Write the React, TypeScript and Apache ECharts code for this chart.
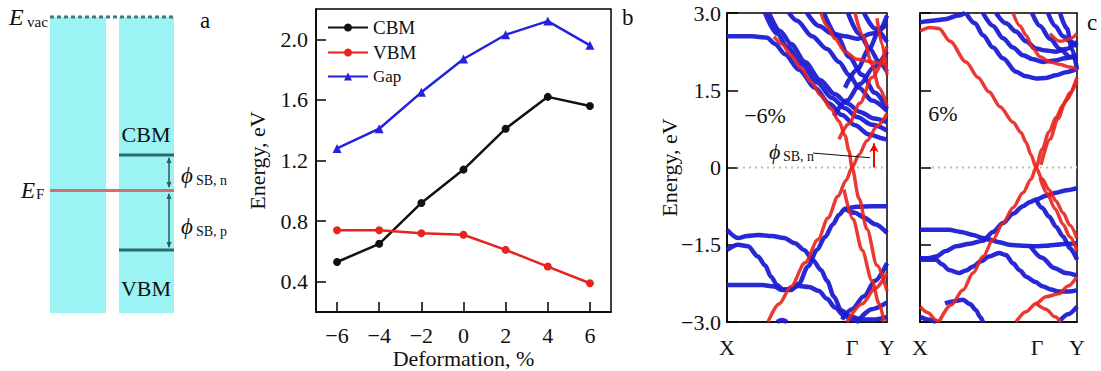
import React, { useEffect, useRef } from "react";
import * as echarts from "echarts";

// ---------- panel b data ----------
const deformation = [-6, -4, -2, 0, 2, 4, 6];
const cbmValues = [0.53, 0.65, 0.92, 1.14, 1.41, 1.62, 1.56];
const vbmValues = [0.74, 0.74, 0.72, 0.71, 0.61, 0.5, 0.39];
const gapValues = [1.28, 1.41, 1.65, 1.87, 2.03, 2.12, 1.96];
const energyTicksB = [0.4, 0.8, 1.2, 1.6, 2.0];
const deformationTicks = [-6, -4, -2, 0, 2, 4, 6];

// ---------- panel c data (k along path, energy eV) ----------
const kLabels = ["X", "\u0393", "Y"];
const kTicksMinus6 = [0, 125, 160];
const kTicksPlus6 = [0, 117, 157];

const minus6Blue: number[][][] = [
  [[0, 2.55], [25, 2.55], [40, 2.52], [48, 2.4], [58, 2.2], [72, 1.9], [88, 1.55], [102, 1.25], [115, 1.02], [128, 0.82], [142, 0.64], [159, 0.55], [160, 0.55]],
  [[38, 3.0], [50, 2.6], [60, 2.35], [75, 2.0], [90, 1.65], [105, 1.35], [118, 1.15], [130, 0.98], [145, 0.83], [160, 0.72]],
  [[42, 3.0], [53, 2.65], [64, 2.4], [78, 2.05], [93, 1.7], [108, 1.42], [120, 1.25], [133, 1.08], [147, 0.95], [160, 0.88]],
  [[62, 3.0], [70, 2.85], [85, 2.55], [100, 2.3], [112, 2.05], [122, 1.8], [132, 1.55], [145, 1.3], [160, 1.1]],
  [[80, 3.0], [92, 2.75], [105, 2.6], [118, 2.55], [130, 2.5], [145, 2.6], [160, 2.78]],
  [[97, 3.0], [110, 2.55], [122, 2.15], [135, 1.8], [148, 1.45], [160, 1.14]],
  [[121, 3.0], [132, 2.6], [143, 2.3], [152, 2.05], [160, 1.86]],
  [[137, 3.0], [148, 2.7], [160, 2.44]],
  [[107, 1.0], [120, 1.3], [133, 1.62], [147, 1.95], [160, 2.25]],
  [[118, 1.55], [130, 1.9], [142, 2.3], [152, 2.65], [160, 2.95]],
  [[0, -1.21], [11, -1.37], [20, -1.33], [31, -1.31], [45, -1.33], [57, -1.37], [68, -1.47], [77, -1.6], [86, -1.8], [94, -1.99], [100, -2.2], [107, -2.51], [114, -2.77], [124, -2.9], [135, -2.95], [148, -2.95], [160, -2.9]],
  [[0, -1.6], [11, -1.5], [21, -1.53], [31, -1.73], [38, -1.9], [44, -2.12], [50, -2.28], [56, -2.37], [64, -2.38], [72, -2.25], [81, -1.92], [90, -1.6], [98, -1.35], [106, -1.1], [112, -0.92], [118, -0.8], [130, -0.76], [145, -0.75], [160, -0.75]],
  [[0, -2.28], [20, -2.28], [35, -2.28], [47, -2.31], [55, -2.38], [62, -2.36], [72, -2.3], [82, -2.32], [92, -2.4], [100, -2.55], [108, -2.72], [117, -2.88], [125, -2.95], [132, -3.0]],
  [[118, -0.8], [128, -0.88], [137, -0.97], [148, -1.1], [160, -1.27]],
  [[115, -2.95], [125, -2.75], [137, -2.5], [148, -2.2], [160, -1.86]],
  [[130, -3.0], [145, -2.75], [160, -2.62]],
  [[50, -3.0], [55, -2.96], [60, -3.0]],
];

const minus6Red: number[][][] = [
  [[47, 2.54], [55, 2.4], [64, 2.18], [74, 1.93], [84, 1.66], [94, 1.4], [104, 1.14], [112, 0.9], [118, 0.62], [122, 0.32], [125, 0.0], [132, -0.6], [140, -1.2], [150, -1.9], [160, -2.4]],
  [[41, -3.0], [52, -2.65], [64, -2.31], [78, -1.85], [91, -1.4], [101, -0.98], [111, -0.56], [119, -0.25], [125, 0.0], [132, 0.25], [140, 0.52], [150, 0.8], [160, 1.05]],
  [[117, -0.43], [126, -1.0], [135, -1.6], [145, -2.2], [152, -2.64], [157, -3.0]],
  [[120, -3.0], [135, -2.65], [148, -2.35], [160, -2.05]],
  [[94, 3.0], [100, 2.75], [108, 2.5], [118, 2.25], [130, 2.1], [145, 2.05], [160, 2.0]],
  [[112, 0.55], [122, 0.85], [133, 1.25], [145, 1.75], [160, 2.35]],
  [[150, 2.9], [155, 2.4], [160, 1.8]],
  [[128, 3.0], [136, 2.55], [145, 2.0], [152, 1.55], [160, 1.2]],
];

const plus6Blue: number[][][] = [
  [[0, 2.82], [12, 2.85], [25, 2.88], [38, 2.95], [45, 3.0]],
  [[46, 3.0], [55, 2.8], [63, 2.57], [73, 2.33], [83, 2.12], [96, 1.86], [106, 1.77], [116, 1.73], [126, 1.74], [136, 1.79], [146, 1.85], [157, 1.92]],
  [[63, 3.0], [73, 2.75], [83, 2.51], [93, 2.33], [103, 2.18], [113, 2.1], [123, 2.05], [135, 2.08], [145, 2.12], [157, 2.18]],
  [[76, 3.0], [86, 2.8], [96, 2.64], [106, 2.45], [116, 2.31], [126, 2.27], [136, 2.25], [146, 2.3], [157, 2.44]],
  [[112, 3.0], [120, 2.75], [130, 2.5], [140, 2.3], [150, 2.15], [157, 2.1]],
  [[128, 3.0], [135, 2.75], [143, 2.55], [150, 2.45], [157, 2.35]],
  [[140, 3.0], [147, 2.7], [152, 2.3], [157, 1.9]],
  [[0, -1.21], [15, -1.21], [29, -1.21], [41, -1.25], [53, -1.31], [63, -1.37], [69, -1.4], [79, -1.45], [89, -1.5], [102, -1.52], [116, -1.53], [126, -1.52], [136, -1.5], [147, -1.48], [157, -1.47]],
  [[0, -1.76], [8, -1.76], [16, -1.73], [26, -1.62], [36, -1.53], [50, -1.48], [63, -1.42], [73, -1.25], [83, -1.08], [93, -0.9], [103, -0.75], [110, -0.67], [116, -0.62], [126, -0.55], [136, -0.49], [147, -0.44], [157, -0.4]],
  [[0, -1.79], [16, -1.79], [22, -1.88], [29, -1.99], [39, -2.05], [46, -2.0], [53, -1.92], [61, -1.82], [69, -1.73], [79, -1.66], [86, -1.7], [93, -1.86], [100, -2.0], [106, -2.12], [115, -2.22], [123, -2.31], [131, -2.37], [139, -2.41], [148, -2.41], [157, -2.38]],
  [[116, -0.62], [122, -0.78], [129, -0.95], [136, -1.15], [143, -1.34], [150, -1.57], [157, -1.79]],
  [[110, -1.52], [122, -1.75], [134, -1.95], [146, -2.05], [157, -2.1]],
  [[25, -2.64], [33, -2.6], [43, -2.57], [50, -2.65], [56, -2.77], [60, -2.9], [63, -3.0]],
  [[0, -2.9], [8, -2.95], [16, -3.0]],
  [[139, -3.0], [148, -2.85], [157, -2.7]],
];

const plus6Red: number[][][] = [
  [[0, 2.65], [10, 2.72], [19, 2.7], [30, 2.45], [46, 2.05], [58, 1.75], [69, 1.47], [80, 1.18], [93, 0.88], [101, 0.68], [106, 0.49], [111, 0.25], [116, 0.0], [122, -0.22], [129, -0.43], [136, -0.65], [143, -0.88], [150, -1.12], [157, -1.38]],
  [[120, -0.2], [127, -0.5], [135, -0.8], [143, -1.1], [150, -1.35], [157, -1.62]],
  [[19, -3.0], [31, -2.67], [43, -2.38], [53, -2.05], [63, -1.73], [73, -1.4], [83, -1.08], [93, -0.78], [103, -0.49], [111, -0.23], [116, 0.0], [122, 0.35], [129, 0.69], [136, 0.97], [143, 1.21], [150, 1.45], [157, 1.68]],
  [[121, 0.05], [130, 0.55], [138, 0.95], [146, 1.3], [157, 1.75]],
  [[93, 3.0], [100, 2.75], [106, 2.57], [113, 2.31], [120, 2.15], [130, 2.05], [140, 2.0], [150, 1.95], [157, 1.9]],
  [[130, 2.6], [140, 2.45], [150, 2.5], [157, 2.6]],
  [[96, -3.0], [106, -2.8], [116, -2.64], [126, -2.51], [139, -2.45], [148, -2.3], [157, -2.12]],
  [[116, -2.64], [126, -2.75], [135, -2.9], [141, -3.0]],
  [[0, -2.7], [8, -2.82], [16, -2.96], [19, -3.0]],
];

const zeroLineMinus6 = [[10, 0], [160, 0]];
const zeroLinePlus6 = [[12, 0], [157, 0]];
const phiArrow = [[147, 0], [147, 0.47]];
const phiLeader = [[86, 0.28], [143, 0.19]];

const SERIF = "Liberation Serif";
const BLUE = "#1c1cd2";
const RED = "#e8231d";
const PHI = "\u03d5";
const minus = (s: string) => s.replace("-", "\u2212");

function txt(x: number, y: number, text: string, size: number, opts: any = {}) {
  return {
    type: "text",
    x,
    y,
    silent: true,
    style: {
      text,
      fill: opts.fill || "#111",
      fontFamily: SERIF,
      fontSize: size,
      fontStyle: opts.italic ? "italic" : "normal",
      align: opts.align || "left",
      verticalAlign: opts.va || "middle",
    },
  };
}

function panelAGraphics() {
  const cyan = "#9cf3f3";
  const teal = "#2d6a6c";
  const g: any[] = [];
  g.push({ type: "rect", shape: { x: 50, y: 17, width: 56, height: 296 }, style: { fill: cyan }, silent: true });
  g.push({ type: "rect", shape: { x: 119, y: 17, width: 55, height: 296 }, style: { fill: cyan }, silent: true });
  g.push({ type: "line", shape: { x1: 50, y1: 17, x2: 174, y2: 17 }, style: { stroke: "#3e7c7e", lineWidth: 3, lineDash: [4, 3] }, silent: true });
  g.push({ type: "line", shape: { x1: 50, y1: 190.5, x2: 174, y2: 190.5 }, style: { stroke: "#cf6f6f", lineWidth: 3 }, silent: true });
  g.push({ type: "line", shape: { x1: 119, y1: 155, x2: 174, y2: 155 }, style: { stroke: teal, lineWidth: 3 }, silent: true });
  g.push({ type: "line", shape: { x1: 119, y1: 250, x2: 174, y2: 250 }, style: { stroke: teal, lineWidth: 3 }, silent: true });
  const ac = "#2a5d60";
  g.push({ type: "line", shape: { x1: 169, y1: 158, x2: 169, y2: 187 }, style: { stroke: ac, lineWidth: 1.5 }, silent: true });
  g.push({ type: "polygon", shape: { points: [[169, 157], [166.5, 163], [171.5, 163]] }, style: { fill: ac }, silent: true });
  g.push({ type: "polygon", shape: { points: [[169, 188], [166.5, 182], [171.5, 182]] }, style: { fill: ac }, silent: true });
  g.push({ type: "line", shape: { x1: 169, y1: 194, x2: 169, y2: 247 }, style: { stroke: ac, lineWidth: 1.5 }, silent: true });
  g.push({ type: "polygon", shape: { points: [[169, 193], [166.5, 199], [171.5, 199]] }, style: { fill: ac }, silent: true });
  g.push({ type: "polygon", shape: { points: [[169, 248], [166.5, 242], [171.5, 242]] }, style: { fill: ac }, silent: true });
  g.push(txt(9, 17, "E", 24, { italic: true }));
  g.push(txt(27, 22, "vac", 15));
  g.push(txt(21, 190, "E", 23, { italic: true }));
  g.push(txt(36, 194, "F", 15));
  g.push(txt(146, 134, "CBM", 22, { align: "center" }));
  g.push(txt(146, 288, "VBM", 22, { align: "center" }));
  g.push(txt(181, 175, PHI, 23, { italic: true }));
  g.push(txt(196, 180, "SB, n", 14));
  g.push(txt(181, 226, PHI, 23, { italic: true }));
  g.push(txt(196, 231, "SB, p", 14));
  g.push(txt(200, 20, "a", 23));
  g.push(txt(622, 17, "b", 23));
  g.push(txt(1087, 22, "c", 23));
  g.push(txt(765, 115, "\u22126%", 22, { align: "center" }));
  g.push(txt(943, 113, "6%", 22, { align: "center" }));
  g.push(txt(769, 151, PHI, 22, { italic: true }));
  g.push(txt(783, 156, "SB, n", 14));
  return g;
}

function bandAxisX(gridIndex: number, max: number, ticks: number[]) {
  return {
    type: "value",
    gridIndex,
    min: 0,
    max,
    axisLine: { show: true, onZero: false, lineStyle: { color: "#000", width: 1.5 } },
    axisTick: { show: false },
    splitLine: { show: false },
    axisLabel: {
      show: true,
      customValues: ticks,
      margin: 14,
      color: "#111",
      fontFamily: SERIF,
      fontSize: 22,
      formatter: (v: number) => kLabels[ticks.indexOf(v)] ?? "",
    },
  };
}

function bandAxisY(gridIndex: number, showLabels: boolean) {
  return {
    type: "value",
    gridIndex,
    min: -3,
    max: 3,
    interval: 1.5,
    name: showLabels ? "Energy, eV" : "",
    nameLocation: "middle",
    nameRotate: 90,
    nameGap: 47,
    nameMoveOverlap: false,
    nameTextStyle: { fontFamily: SERIF, fontSize: 22, color: "#111" },
    axisLine: { show: true, onZero: false, lineStyle: { color: "#000", width: 1.5 } },
    axisTick: { show: true, inside: true, length: 11, lineStyle: { color: "#000", width: 1.5 } },
    splitLine: { show: false },
    axisLabel: {
      show: showLabels,
      margin: 6,
      color: "#111",
      fontFamily: SERIF,
      fontSize: 22,
      formatter: (v: number) => (v === 0 ? "0" : minus(v.toFixed(1))),
    },
  };
}

function bandSeries(bands: number[][][], axis: number, color: string, width: number, opacity: number) {
  return bands.map((b) => ({
    type: "line",
    xAxisIndex: axis,
    yAxisIndex: axis,
    data: b,
    symbol: "none",
    showSymbol: false,
    smooth: 0.3,
    smoothMonotone: "x",
    silent: true,
    lineStyle: { color, width, opacity },
    z: color === RED ? 3 : 2,
  }));
}

export default function App() {
  const ref = useRef<HTMLDivElement>(null);
  useEffect(() => {
    if (!ref.current) return;
    const chart = echarts.init(ref.current, undefined, { renderer: "svg" });
    const lineCommon = (name: string, data: number[], color: string, symbol: string) => ({
      name,
      type: "line",
      xAxisIndex: 0,
      yAxisIndex: 0,
      data: deformation.map((d, i) => [d, data[i]]),
      symbol,
      symbolSize: symbol === "triangle" ? 9 : 8,
      lineStyle: { color, width: 2.5 },
      itemStyle: { color },
      z: 5,
    });
    const option: any = {
      animation: false,
      backgroundColor: "#fff",
      textStyle: { fontFamily: SERIF },
      grid: [
        { left: 316, top: 9, width: 295, height: 303, show: true, borderColor: "#000", borderWidth: 1.5, outerBoundsMode: "none", containLabel: false },
        { left: 727, top: 13, width: 160, height: 309, show: true, borderColor: "#000", borderWidth: 1.5, outerBoundsMode: "none", containLabel: false },
        { left: 920, top: 13, width: 157, height: 309, show: true, borderColor: "#000", borderWidth: 1.5, outerBoundsMode: "none", containLabel: false },
      ],
      legend: {
        orient: "vertical",
        left: 322,
        top: 13,
        itemWidth: 40,
        itemHeight: 10,
        itemGap: 6,
        textStyle: { fontFamily: SERIF, fontSize: 19, color: "#111" },
        data: [
          { name: "CBM" },
          { name: "VBM" },
          { name: "Gap", textStyle: { fontSize: 17 } },
        ],
      },
      xAxis: [
        {
          type: "value",
          gridIndex: 0,
          min: -7,
          max: 7,
          name: "Deformation, %",
          nameLocation: "middle",
          nameGap: 35,
          nameMoveOverlap: false,
          nameTextStyle: { fontFamily: SERIF, fontSize: 22, color: "#111" },
          axisLine: { show: true, onZero: false, lineStyle: { color: "#000", width: 1.5 } },
          axisTick: { show: true, inside: true, length: 10, customValues: deformationTicks, lineStyle: { color: "#000", width: 1.5 } },
          splitLine: { show: false },
          axisLabel: {
            customValues: deformationTicks,
            margin: 12,
            color: "#111",
            fontFamily: SERIF,
            fontSize: 22,
            formatter: (v: number) => minus(String(v)),
          },
        },
        bandAxisX(1, 160, kTicksMinus6),
        bandAxisX(2, 157, kTicksPlus6),
      ],
      yAxis: [
        {
          type: "value",
          gridIndex: 0,
          min: 0.2,
          max: 2.2,
          name: "Energy, eV",
          nameLocation: "middle",
          nameRotate: 90,
          nameGap: 48,
          nameMoveOverlap: false,
          nameTextStyle: { fontFamily: SERIF, fontSize: 22, color: "#111" },
          axisLine: { show: true, onZero: false, lineStyle: { color: "#000", width: 1.5 } },
          axisTick: { show: true, inside: true, length: 10, customValues: energyTicksB, lineStyle: { color: "#000", width: 1.5 } },
          splitLine: { show: false },
          axisLabel: {
            customValues: energyTicksB,
            margin: 8,
            color: "#111",
            fontFamily: SERIF,
            fontSize: 22,
            formatter: (v: number) => v.toFixed(1),
          },
        },
        bandAxisY(1, true),
        bandAxisY(2, false),
      ],
      series: [
        lineCommon("CBM", cbmValues, "#111111", "circle"),
        lineCommon("VBM", vbmValues, RED, "circle"),
        lineCommon("Gap", gapValues, "#2323dc", "triangle"),
        {
          type: "line", xAxisIndex: 1, yAxisIndex: 1, data: zeroLineMinus6, symbol: "none", silent: true,
          lineStyle: { color: "#9fd09f", width: 2, type: [2, 4] }, z: 1,
        },
        {
          type: "line", xAxisIndex: 2, yAxisIndex: 2, data: zeroLinePlus6, symbol: "none", silent: true,
          lineStyle: { color: "#9fd09f", width: 2, type: [2, 4] }, z: 1,
        },
        ...bandSeries(minus6Blue, 1, BLUE, 4.5, 0.95),
        ...bandSeries(minus6Red, 1, RED, 3.5, 0.9),
        ...bandSeries(plus6Blue, 2, BLUE, 4.5, 0.95),
        ...bandSeries(plus6Red, 2, RED, 3.5, 0.9),
        {
          type: "line", xAxisIndex: 1, yAxisIndex: 1, data: phiLeader, symbol: "none", silent: true,
          lineStyle: { color: "#111", width: 1 }, z: 6,
          markLine: {
            silent: true,
            symbol: ["none", "arrow"],
            symbolSize: [7, 9],
            label: { show: false },
            lineStyle: { color: "#ff0000", width: 2, type: "solid" },
            data: [[{ coord: phiArrow[0] }, { coord: phiArrow[1] }]],
          },
        },
      ],
      graphic: panelAGraphics(),
    };
    chart.setOption(option);
    return () => chart.dispose();
  }, []);
  return (
    <div
      ref={ref}
      style={{ position: "fixed", left: 0, top: 0, width: 1101, height: 371, background: "#fff" }}
    />
  );
}
